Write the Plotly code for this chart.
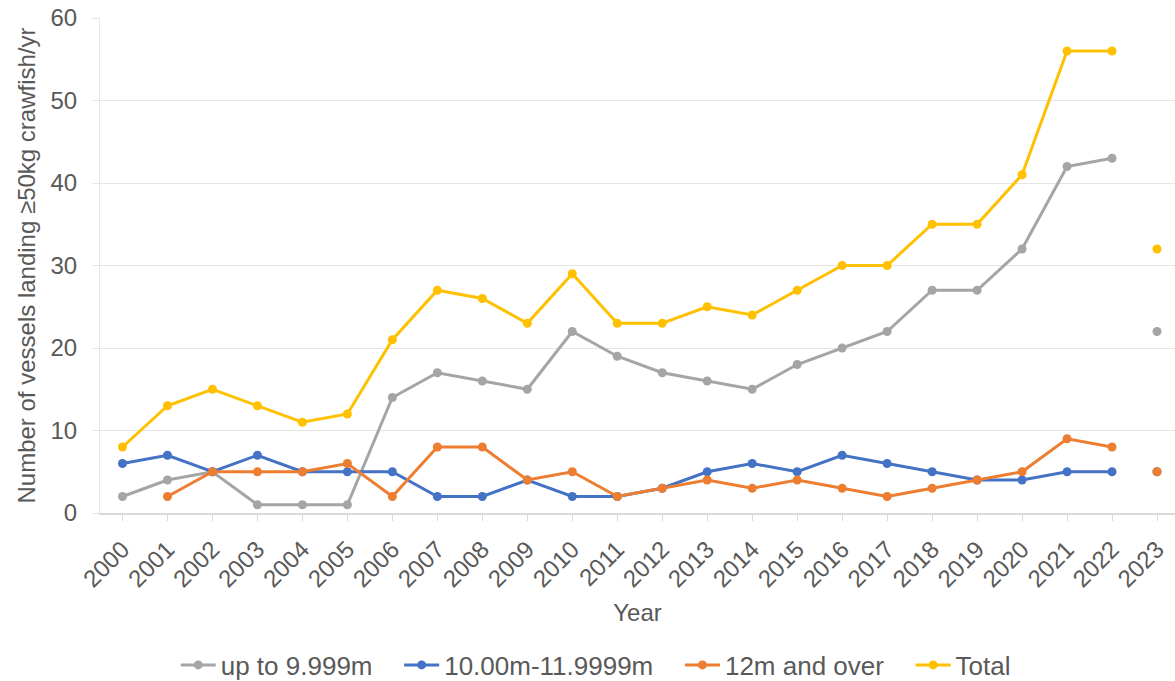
import plotly.graph_objects as go

years = [str(y) for y in range(2000, 2024)]
years_line = years[:-1]  # 2000-2022 joined by lines
year_last = years[-1:]   # 2023 shown as isolated points

up_to_9999 = [2, 4, 5, 1, 1, 1, 14, 17, 16, 15, 22, 19, 17, 16, 15, 18, 20, 22, 27, 27, 32, 42, 43]
m10_to_12 = [6, 7, 5, 7, 5, 5, 5, 2, 2, 4, 2, 2, 3, 5, 6, 5, 7, 6, 5, 4, 4, 5, 5]
m12_over = [None, 2, 5, 5, 5, 6, 2, 8, 8, 4, 5, 2, 3, 4, 3, 4, 3, 2, 3, 4, 5, 9, 8]
total = [8, 13, 15, 13, 11, 12, 21, 27, 26, 23, 29, 23, 23, 25, 24, 27, 30, 30, 35, 35, 41, 56, 56]

last_up_to_9999 = [22]
last_m10_to_12 = [5]
last_m12_over = [5]
last_total = [32]

series = [
    ("up to 9.999m", up_to_9999, last_up_to_9999, "#A5A5A5"),
    ("10.00m-11.9999m", m10_to_12, last_m10_to_12, "#4472C4"),
    ("12m and over", m12_over, last_m12_over, "#ED7D31"),
    ("Total", total, last_total, "#FFC000"),
]

font_family = "Liberation Sans, Arial, sans-serif"
txt = "#595959"
pad = "\u00a0\u00a0\u00a0"

fig = go.Figure()
for i, (name, vals, last, col) in enumerate(series):
    label = name + (pad if i < len(series) - 1 else "")
    fig.add_trace(go.Scatter(
        x=years_line, y=vals, name=label, mode="lines+markers",
        line=dict(color=col, width=3), marker=dict(color=col, size=9),
        legendgroup=name, connectgaps=False,
    ))
for name, vals, last, col in series:
    fig.add_trace(go.Scatter(
        x=year_last, y=last, name=name, mode="markers",
        marker=dict(color=col, size=9), legendgroup=name, showlegend=False,
    ))

fig.update_layout(
    width=1175, height=681,
    margin=dict(l=100, r=0, t=18, b=168),
    plot_bgcolor="white", paper_bgcolor="white",
    font=dict(family=font_family, color=txt, size=24),
    showlegend=True,
    legend=dict(orientation="h", xref="container", x=0.507, xanchor="center",
                yref="container", y=0.0235, yanchor="middle",
                font=dict(size=26, color=txt), itemwidth=35, traceorder="normal"),
    xaxis=dict(
        type="category", categoryorder="array", categoryarray=years,
        range=[-0.5, 23.4], tickangle=-45,
        showline=True, linecolor="#D9D9D9", linewidth=1.5,
        ticks="outside", ticklen=6, tickcolor="#D9D9D9",
        showgrid=False, tickfont=dict(size=24, color=txt),
        ticklabelstandoff=5,
        title=dict(text="Year", font=dict(size=24, color=txt), standoff=13),
        automargin=False,
    ),
    yaxis=dict(
        range=[0, 60], dtick=10,
        showgrid=True, gridcolor="#E5E5E5", gridwidth=1.2,
        showline=True, linecolor="#E5E5E5", linewidth=1,
        ticks="outside", ticklen=7, tickcolor="#E5E5E5",
        zeroline=False, tickfont=dict(size=24, color=txt),
        ticklabelstandoff=10, ticklabeloverflow="allow",
        title=dict(text="Number of vessels landing ≥50kg crawfish/yr",
                   font=dict(size=24, color=txt), standoff=8),
        automargin=False,
    ),
)

fig.write_html("out.html", config={"displayModeBar": False},
               post_script="document.body.style.margin='0px';document.body.style.overflow='hidden';")
